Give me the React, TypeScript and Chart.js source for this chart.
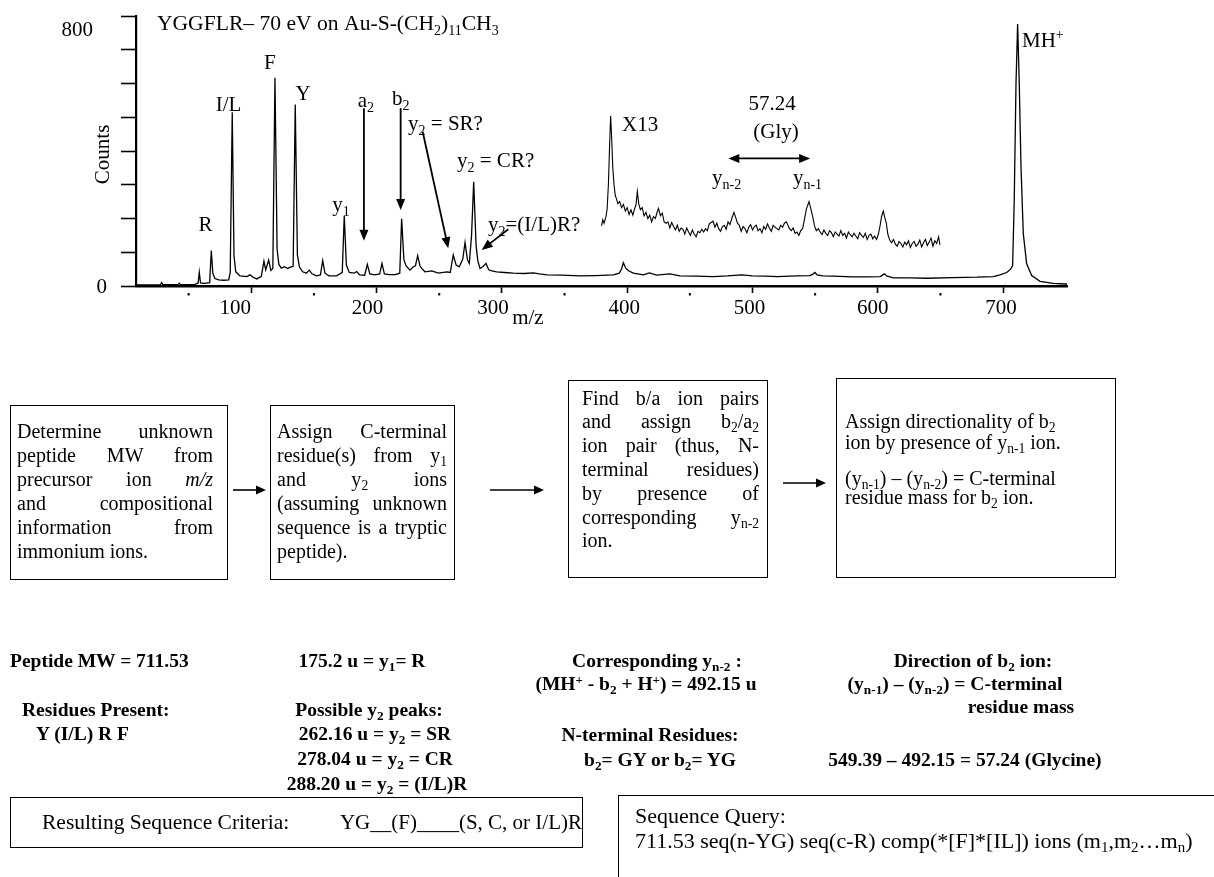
import React, { useEffect, useRef } from "react";
import { Chart, registerables } from "chart.js";

Chart.register(...registerables);

const SERIF = '"Liberation Serif", "Times New Roman", Times, serif';

// Main spectrum trace (m/z, counts)
const spectrumMz = [
  8.8, 20, 27.5, 28.5, 29.5, 41.5, 42.5, 43.5, 55, 57.6, 58.5, 59.5, 62, 66.8, 68.1, 69.3, 71, 74, 78, 82,
  83.2, 84.8, 86.2, 87.6, 91, 96.5, 99, 101.5, 104.3, 108, 110.1, 111.5, 113.9, 115.6, 117.2, 118.9, 120.6, 122, 124, 126.5,
  129, 131, 133.4, 135.1, 136.8, 138.4, 141, 144, 146.3, 148.5, 152, 155.2, 157, 158.8, 162, 168, 172.6, 174.2, 175.9, 178.2,
  182, 184.1, 186.5, 190.5, 192.6, 194.6, 198.5, 202.5, 204.3, 206.2, 210, 215, 218.5, 220, 221.8, 223.5, 226.7, 229.3, 231, 232.8,
  234.6, 236, 238.6, 244, 249.3, 256, 258.8, 261.2, 263.5, 266, 268.8, 270.6, 272.5, 274, 275.8, 277.5, 279.4, 280.8, 282.5, 285,
  287.3, 289.5, 292, 295.8, 302, 309, 318, 325, 330, 336, 348, 362, 375, 389, 393.7, 395.5, 396.9, 399, 401, 405,
  412.9, 417.7, 423.5, 434.2, 442, 455, 468.7, 480, 491.4, 500, 510, 520, 535, 546, 548.5, 549.9, 551.5, 556, 564.5, 580,
  592, 602, 604, 605.3, 607, 612.4, 625, 639, 660, 679, 692.2, 697.5, 702.9, 706, 707.6, 708.9, 710.3, 711.6, 712.9, 714.3,
  716.1, 718.8, 722.8, 729.5, 740, 749.5, 751,
];
const spectrumCounts = [
  3, 3, 4, 10, 4, 4, 8, 4, 5, 9, 41, 9, 8, 10, 105, 38, 22, 18, 17, 18,
  40, 515, 90, 42, 30, 28, 33, 26, 21, 28, 74, 48, 77, 46, 52, 617, 110, 64, 53, 57,
  52, 56, 58, 538, 92, 57, 42, 38, 47, 36, 30, 33, 75, 38, 30, 30, 40, 208, 62, 40,
  38, 43, 33, 32, 64, 36, 33, 36, 67, 36, 34, 34, 38, 199, 78, 60, 47, 57, 60, 90,
  60, 52, 42, 45, 38, 42, 40, 92, 62, 57, 80, 129, 78, 67, 150, 309, 120, 75, 52, 58,
  67, 48, 45, 42, 40, 38, 37, 39, 36, 33, 32, 30, 31, 33, 38, 50, 69, 52, 45, 38,
  33, 39, 32, 36, 30, 29, 28, 30, 33, 30, 29, 28, 30, 31, 36, 40, 33, 30, 29, 27,
  27, 28, 33, 36, 30, 24, 24, 23, 25, 26, 28, 33, 40, 50, 60, 254, 600, 776, 600, 352,
  156, 66, 31, 14, 8, 6, 6,
];

// X13 magnified section, drawn raised above the main trace
const insetMz = [
  379.5, 380.5, 381.5, 383, 384, 385, 386, 386.8, 387.6, 388.5, 389.5, 390.5, 391.5, 392.5, 394, 395.5, 397, 398.5, 400, 401.5,
  403, 404.5, 406, 407, 408.1, 409.2, 410.5, 412, 413.5, 415, 416.5, 418, 419.5, 421, 422.5, 424, 425, 426.5, 428, 429.5,
  431, 432.5, 434, 435.5, 437, 438.5, 440, 441.5, 443, 444.5, 446, 447.5, 449, 450.5, 452, 453.5, 455, 456.5, 458, 459.5,
  461, 462.5, 464, 465.5, 467, 468.5, 470, 471.5, 473, 474.5, 476, 477.5, 479, 480.5, 482, 483.5, 485.2, 486.5, 488, 489.5,
  491, 492.5, 494, 495.5, 497, 498.5, 500, 501.5, 503, 504.5, 506, 507.5, 509, 510.5, 512, 513.5, 515, 516.5, 518, 519.5,
  521, 522.5, 524, 525.5, 527, 528, 529.5, 531, 532.5, 534, 535.5, 537, 538.5, 540, 541.5, 543, 545.1, 546.5, 548, 549.5,
  551, 552.5, 554, 555.5, 557, 558.5, 560, 561.5, 563, 564.5, 566, 567.5, 569, 570.5, 572, 573.5, 575, 576.5, 578, 579.5,
  581, 582.5, 584, 585.5, 587, 588.5, 590, 591.5, 593, 594.5, 596, 597.5, 599, 600.5, 601.8, 603, 604.4, 605.5, 606.8, 608,
  609.5, 611, 612.5, 614, 615.5, 617, 618.5, 620, 621.5, 623, 624.5, 626, 627.5, 629, 630.5, 632, 633.5, 635, 636.5, 638,
  639.5, 641, 642.5, 644, 645.5, 647, 648.5, 649.6,
];
const insetCounts = [
  178, 196, 186, 204, 228, 300, 420, 504, 440, 350, 300, 268, 258, 244, 250, 232, 242, 222, 232, 212,
  226, 210, 230, 240, 280, 244, 226, 232, 208, 218, 200, 210, 190, 206, 200, 220, 230, 208, 216, 190,
  186, 190, 172, 188, 176, 166, 180, 162, 172, 168, 154, 172, 160, 150, 166, 154, 146, 162, 158, 168,
  160, 170, 164, 184, 188, 192, 174, 186, 170, 162, 176, 180, 168, 190, 182, 200, 218, 204, 186, 180,
  162, 176, 170, 158, 174, 182, 166, 176, 180, 164, 170, 158, 176, 168, 184, 172, 162, 180, 174, 170,
  166, 180, 174, 186, 190, 182, 170, 164, 172, 156, 160, 150, 164, 170, 198, 228, 250, 230, 206, 178,
  164, 170, 160, 152, 166, 156, 150, 164, 158, 146, 160, 154, 148, 164, 150, 156, 142, 160, 152, 146,
  156, 148, 140, 158, 150, 144, 156, 138, 150, 154, 140, 148, 138, 154, 178, 206, 222, 204, 186, 154,
  136, 128, 138, 124, 118, 132, 126, 116, 130, 122, 134, 114, 126, 132, 118, 124, 136, 116, 128, 138,
  120, 130, 142, 118, 134, 126, 146, 122,
];

const xTickValues = [100, 200, 300, 400, 500, 600, 700];
// horizontal nudges of the m/z tick labels, in px
const xTickLabelShift = [-16, -9, -9, -3, -3, -5, -2];
const xMinorTickValues = [50, 150, 250, 350, 450, 550, 650];
const yTickValues = [0, 100, 200, 300, 400, 500, 600, 700, 800];

type Part = { t: string; sub?: boolean; sup?: boolean };
type Note = { parts: Part[]; mz: number; counts: number; align: CanvasTextAlign };

// Peak labels, placed in data units
const peakNotes: Note[] = [
  { parts: [{ t: "R" }], mz: 63.4, counts: 185, align: "center" },
  { parts: [{ t: "I/L" }], mz: 81.8, counts: 539, align: "center" },
  { parts: [{ t: "F" }], mz: 114.9, counts: 664, align: "center" },
  { parts: [{ t: "Y" }], mz: 141.3, counts: 572, align: "center" },
  { parts: [{ t: "y" }, { t: "1", sub: true }], mz: 171.6, counts: 243, align: "center" },
  { parts: [{ t: "a" }, { t: "2", sub: true }], mz: 191.5, counts: 551, align: "center" },
  { parts: [{ t: "b" }, { t: "2", sub: true }], mz: 219.3, counts: 557, align: "center" },
  { parts: [{ t: "y" }, { t: "2", sub: true }, { t: " = SR?" }], mz: 225.1, counts: 483, align: "left" },
  { parts: [{ t: "y" }, { t: "2", sub: true }, { t: " = CR?" }], mz: 264.2, counts: 373, align: "left" },
  { parts: [{ t: "y" }, { t: "2", sub: true }, { t: "=(I/L)R?" }], mz: 288.9, counts: 184, align: "left" },
  { parts: [{ t: "X13" }], mz: 395.9, counts: 480, align: "left" },
  { parts: [{ t: "57.24" }], mz: 515.6, counts: 544, align: "center" },
  { parts: [{ t: "(Gly)" }], mz: 518.8, counts: 459, align: "center" },
  { parts: [{ t: "y" }, { t: "n-2", sub: true }], mz: 467.7, counts: 323, align: "left" },
  { parts: [{ t: "y" }, { t: "n-1", sub: true }], mz: 532.3, counts: 323, align: "left" },
  { parts: [{ t: "MH" }, { t: "+", sup: true }], mz: 715.1, counts: 729, align: "left" },
];

const titleParts: Part[] = [
  { t: "YGGFLR\u2013 70 eV on Au-S-(CH" },
  { t: "2", sub: true },
  { t: ")" },
  { t: "11", sub: true },
  { t: "CH" },
  { t: "3", sub: true },
];

// Pointer arrows, in data units: [m/z, counts]
const arrowNotes = [
  { from: [189.9, 527], to: [189.9, 134], both: false },
  { from: [219.2, 527], to: [219.2, 225], both: false },
  { from: [236.8, 457], to: [257.2, 112], both: false },
  { from: [305.1, 168], to: [283.9, 107], both: false },
  { from: [480.7, 378], to: [546.0, 378], both: true },
];

const FS = 21;

function drawRich(
  ctx: CanvasRenderingContext2D,
  parts: Part[],
  x: number,
  cy: number,
  size: number,
  align: CanvasTextAlign
) {
  const small = Math.round(size * 0.66);
  const fontOf = (p: Part) => `${p.sub || p.sup ? small : size}px ${SERIF}`;
  const widths = parts.map((p) => {
    ctx.font = fontOf(p);
    return ctx.measureText(p.t).width;
  });
  const total = widths.reduce((a, b) => a + b, 0);
  let cx = align === "center" ? x - total / 2 : align === "right" ? x - total : x;
  const base = cy + size * 0.34;
  ctx.textAlign = "left";
  ctx.textBaseline = "alphabetic";
  parts.forEach((p, i) => {
    ctx.font = fontOf(p);
    const yy = p.sub ? base + size * 0.22 : p.sup ? base - size * 0.4 : base;
    ctx.fillText(p.t, cx, yy);
    cx += widths[i];
  });
}

function arrowHead(ctx: CanvasRenderingContext2D, fx: number, fy: number, tx: number, ty: number) {
  const len = 11;
  const half = 4.5;
  const a = Math.atan2(ty - fy, tx - fx);
  const c = Math.cos(a);
  const s = Math.sin(a);
  ctx.beginPath();
  ctx.moveTo(tx, ty);
  ctx.lineTo(tx - len * c + half * s, ty - len * s - half * c);
  ctx.lineTo(tx - len * c - half * s, ty - len * s + half * c);
  ctx.closePath();
  ctx.fill();
}

const annotate = {
  id: "annotate",
  afterDraw(chart: any) {
    const { ctx, chartArea } = chart;
    const x = chart.scales.x;
    const y = chart.scales.y;
    ctx.save();
    ctx.fillStyle = "#000";
    ctx.strokeStyle = "#000";

    // minor ticks on the m/z axis
    for (const v of xMinorTickValues) {
      const px = x.getPixelForValue(v);
      ctx.fillRect(px - 1, chartArea.bottom + 7, 2, 2.5);
    }

    // m/z tick labels
    ctx.font = `${FS}px ${SERIF}`;
    ctx.textAlign = "center";
    ctx.textBaseline = "middle";
    xTickValues.forEach((v, i) => {
      ctx.fillText(String(v), x.getPixelForValue(v) + xTickLabelShift[i], chartArea.bottom + 22);
    });

    // counts labels
    ctx.textAlign = "right";
    ctx.fillText("800", chartArea.left - 43, y.getPixelForValue(800) + 14);
    ctx.fillText("0", chartArea.left - 29, y.getPixelForValue(0) + 1);

    // axis titles
    ctx.save();
    ctx.translate(chartArea.left - 33, y.getPixelForValue(390));
    ctx.rotate(-Math.PI / 2);
    ctx.textAlign = "center";
    ctx.fillText("Counts", 0, 0);
    ctx.restore();
    ctx.textAlign = "center";
    ctx.fillText("m/z", x.getPixelForValue(320.8), chartArea.bottom + 32);

    // title
    drawRich(ctx, titleParts, x.getPixelForValue(24.7), y.getPixelForValue(779), 21.6, "left");

    // peak labels
    for (const n of peakNotes) {
      drawRich(ctx, n.parts, x.getPixelForValue(n.mz), y.getPixelForValue(n.counts), FS, n.align);
    }

    // arrows
    ctx.lineWidth = 1.8;
    for (const a of arrowNotes) {
      const fx = x.getPixelForValue(a.from[0]);
      const fy = y.getPixelForValue(a.from[1]);
      const tx = x.getPixelForValue(a.to[0]);
      const ty = y.getPixelForValue(a.to[1]);
      const ang = Math.atan2(ty - fy, tx - fx);
      const sx = a.both ? fx + 9 * Math.cos(ang) : fx;
      const sy = a.both ? fy + 9 * Math.sin(ang) : fy;
      ctx.beginPath();
      ctx.moveTo(sx, sy);
      ctx.lineTo(tx - 9 * Math.cos(ang), ty - 9 * Math.sin(ang));
      ctx.stroke();
      arrowHead(ctx, fx, fy, tx, ty);
      if (a.both) arrowHead(ctx, tx, ty, fx, fy);
    }
    ctx.restore();
  },
};

const Sub = ({ c }: { c: string }) => (
  <span style={{ fontSize: "0.68em", position: "relative", top: "0.3em" }}>{c}</span>
);
const Sup = ({ c }: { c: string }) => (
  <span style={{ fontSize: "0.66em", position: "relative", top: "-0.5em" }}>{c}</span>
);

type TxtProps = {
  left?: number;
  right?: number;
  cy: number;
  width?: number;
  justify?: boolean;
  center?: number;
  size?: number;
  bold?: boolean;
  children: React.ReactNode;
};

function Txt({ left, right, cy, width, justify, center, size = 20, bold, children }: TxtProps) {
  const style: React.CSSProperties = {
    position: "absolute",
    top: cy - 12,
    height: 24,
    lineHeight: "24px",
    fontSize: size,
    fontWeight: bold ? 700 : 400,
    fontFamily: SERIF,
    color: "#000",
  };
  if (center !== undefined) {
    style.left = center - 300;
    style.width = 600;
    style.textAlign = "center";
    style.whiteSpace = "nowrap";
  } else if (right !== undefined) {
    style.left = right - 600;
    style.width = 600;
    style.textAlign = "right";
    style.whiteSpace = "nowrap";
  } else {
    style.left = left;
    if (justify) {
      style.width = width;
      style.textAlign = "justify";
      style.textAlignLast = "justify";
    } else {
      style.whiteSpace = "nowrap";
    }
  }
  return <div style={style}>{children}</div>;
}

function Box({ l, t, w, h }: { l: number; t: number; w: number; h: number }) {
  return (
    <div
      style={{
        position: "absolute",
        left: l,
        top: t,
        width: w,
        height: h,
        border: "1.5px solid #000",
        boxSizing: "border-box",
      }}
    />
  );
}

const flowArrows = [
  { x1: 233, x2: 266, y: 490 },
  { x1: 490, x2: 544, y: 490 },
  { x1: 783, x2: 826, y: 483 },
];

export default function App() {
  const ref = useRef<HTMLCanvasElement>(null);

  useEffect(() => {
    const canvas = ref.current;
    if (!canvas) return;
    const chart = new Chart(canvas, {
      type: "scatter",
      data: {
        datasets: [
          {
            data: spectrumMz.map((m, i) => ({ x: m, y: spectrumCounts[i] })),
            showLine: true,
            borderColor: "#000",
            borderWidth: 1.3,
            pointRadius: 0,
            tension: 0,
          },
          {
            data: insetMz.map((m, i) => ({ x: m, y: insetCounts[i] })),
            showLine: true,
            borderColor: "#000",
            borderWidth: 1.1,
            pointRadius: 0,
            tension: 0,
          },
        ],
      },
      options: {
        animation: false,
        responsive: false,
        devicePixelRatio: 1,
        events: [],
        layout: { padding: { left: 0, top: 16, right: 147, bottom: 0 } },
        plugins: {
          legend: { display: false },
          tooltip: { enabled: false },
          title: { display: false },
        },
        scales: {
          x: {
            type: "linear",
            min: 8,
            max: 751,
            afterBuildTicks: (s: any) => {
              s.ticks = xTickValues.map((v) => ({ value: v }));
            },
            afterFit: (s: any) => {
              s.height = 54;
            },
            ticks: { display: false },
            grid: {
              display: true,
              drawOnChartArea: false,
              drawTicks: true,
              tickLength: 7,
              tickWidth: 1.6,
              tickColor: "#000",
              color: "#000",
            },
            border: { display: true, color: "#000", width: 2.4 },
          },
          y: {
            type: "linear",
            min: 0,
            max: 800,
            afterBuildTicks: (s: any) => {
              s.ticks = yTickValues.map((v) => ({ value: v }));
            },
            afterFit: (s: any) => {
              s.width = 136;
            },
            ticks: { display: false },
            grid: {
              display: true,
              drawOnChartArea: false,
              drawTicks: true,
              tickLength: 15,
              tickWidth: 1.6,
              tickColor: "#000",
              color: "#000",
            },
            border: { display: true, color: "#000", width: 2.2 },
          },
        },
      } as any,
      plugins: [annotate],
    });
    return () => chart.destroy();
  }, []);

  return (
    <div
      style={{
        position: "relative",
        width: 1214,
        height: 877,
        overflow: "hidden",
        background: "#fff",
        fontFamily: SERIF,
      }}
    >
      <style>{"body{margin:0;background:#fff}"}</style>
      <canvas
        ref={ref}
        width={1214}
        height={340}
        style={{ position: "absolute", left: 0, top: 0, width: 1214, height: 340, display: "block" }}
      />

      {/* workflow boxes */}
      <Box l={10} t={405} w={218} h={175} />
      <Box l={270} t={405} w={185} h={175} />
      <Box l={568} t={380} w={200} h={198} />
      <Box l={836} t={378} w={280} h={200} />

      <svg
        width={1214}
        height={877}
        style={{ position: "absolute", left: 0, top: 0, pointerEvents: "none" }}
      >
        {flowArrows.map((a, i) => (
          <g key={i}>
            <line x1={a.x1} y1={a.y} x2={a.x2 - 9} y2={a.y} stroke="#000" strokeWidth={1.6} />
            <polygon
              points={`${a.x2},${a.y} ${a.x2 - 10},${a.y - 4.5} ${a.x2 - 10},${a.y + 4.5}`}
              fill="#000"
            />
          </g>
        ))}
      </svg>

      <Txt left={17} cy={431} width={196} justify>Determine unknown</Txt>
      <Txt left={17} cy={455} width={196} justify>peptide MW from</Txt>
      <Txt left={17} cy={479} width={196} justify>
        precursor ion <i>m/z</i>
      </Txt>
      <Txt left={17} cy={503} width={196} justify>and compositional</Txt>
      <Txt left={17} cy={527} width={196} justify>information from</Txt>
      <Txt left={17} cy={551}>immonium ions.</Txt>

      <Txt left={277} cy={431} width={170} justify>Assign C-terminal</Txt>
      <Txt left={277} cy={455} width={170} justify>
        residue(s) from y<Sub c="1" />
      </Txt>
      <Txt left={277} cy={479} width={170} justify>
        and y<Sub c="2" /> ions
      </Txt>
      <Txt left={277} cy={503} width={170} justify>(assuming unknown</Txt>
      <Txt left={277} cy={527} width={170} justify>sequence is a tryptic</Txt>
      <Txt left={277} cy={551}>peptide).</Txt>

      <Txt left={582} cy={398} width={177} justify>Find b/a ion pairs</Txt>
      <Txt left={582} cy={421} width={177} justify>
        and assign b<Sub c="2" />/a<Sub c="2" />
      </Txt>
      <Txt left={582} cy={445} width={177} justify>ion pair (thus, N-</Txt>
      <Txt left={582} cy={469} width={177} justify>terminal residues)</Txt>
      <Txt left={582} cy={493} width={177} justify>by presence of</Txt>
      <Txt left={582} cy={517} width={177} justify>
        corresponding y<Sub c="n-2" />
      </Txt>
      <Txt left={582} cy={540}>ion.</Txt>

      <Txt left={845} cy={421}>
        Assign directionality of b<Sub c="2" />
      </Txt>
      <Txt left={845} cy={442}>
        ion by presence of y<Sub c="n-1" /> ion.
      </Txt>
      <Txt left={845} cy={478}>
        (y<Sub c="n-1" />) – (y<Sub c="n-2" />) = C-terminal
      </Txt>
      <Txt left={845} cy={497}>
        residue mass for b<Sub c="2" /> ion.
      </Txt>

      {/* worked results */}
      <Txt left={10} cy={661} bold size={19.5}>Peptide MW = 711.53</Txt>
      <Txt left={22} cy={710} bold size={19.5}>Residues Present:</Txt>
      <Txt left={36} cy={734} bold size={19.5}>Y (I/L) R F</Txt>

      <Txt center={362} cy={661} bold size={19.5}>
        175.2 u = y<Sub c="1" />= R
      </Txt>
      <Txt center={369} cy={710} bold size={19.5}>
        Possible y<Sub c="2" /> peaks:
      </Txt>
      <Txt center={375} cy={734} bold size={19.5}>
        262.16 u = y<Sub c="2" /> = SR
      </Txt>
      <Txt center={375} cy={759} bold size={19.5}>
        278.04 u = y<Sub c="2" /> = CR
      </Txt>
      <Txt center={377} cy={784} bold size={19.5}>
        288.20 u = y<Sub c="2" /> = (I/L)R
      </Txt>

      <Txt center={657} cy={661} bold size={19.5}>
        Corresponding y<Sub c="n-2" /> :
      </Txt>
      <Txt center={646} cy={684} bold size={19.5}>
        (MH<Sup c="+" /> - b<Sub c="2" /> + H<Sup c="+" />) = 492.15 u
      </Txt>
      <Txt center={650} cy={735} bold size={19.5}>N-terminal Residues:</Txt>
      <Txt center={660} cy={760} bold size={19.5}>
        b<Sub c="2" />= GY or b<Sub c="2" />= YG
      </Txt>

      <Txt center={973} cy={661} bold size={19.5}>
        Direction of b<Sub c="2" /> ion:
      </Txt>
      <Txt center={955} cy={684} bold size={19.5}>
        (y<Sub c="n-1" />) – (y<Sub c="n-2" />) = C-terminal
      </Txt>
      <Txt center={1021} cy={707} bold size={19.5}>residue mass</Txt>
      <Txt center={965} cy={760} bold size={19.5}>
        549.39 – 492.15 = 57.24 (Glycine)
      </Txt>

      {/* summary boxes */}
      <Box l={10} t={797} w={573} h={51} />
      <Txt left={42} cy={822} size={21.5}>Resulting Sequence Criteria:</Txt>
      <Txt right={582} cy={822} size={21}>YG__(F)____(S, C, or I/L)R</Txt>

      <Box l={618} t={795} w={700} h={200} />
      <Txt left={635} cy={816} size={22}>Sequence Query:</Txt>
      <Txt left={635} cy={841} size={22}>
        711.53 seq(n-YG) seq(c-R) comp(*[F]*[IL]) ions (m<Sub c="1" />,m<Sub c="2" />…m<Sub c="n" />)
      </Txt>
    </div>
  );
}
